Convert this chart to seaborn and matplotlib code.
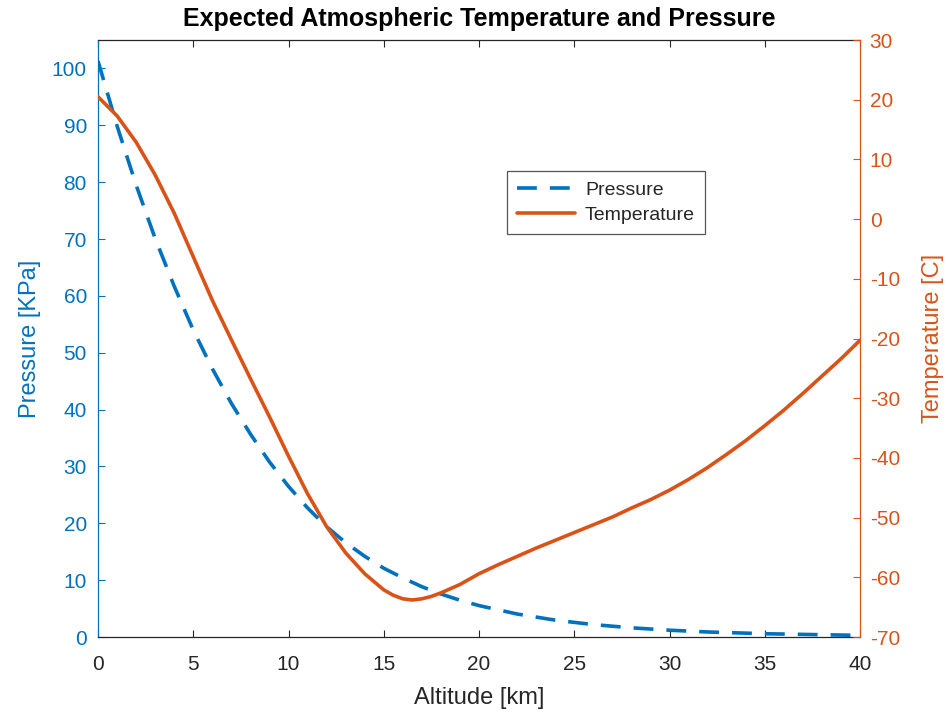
import matplotlib
matplotlib.use("Agg")
import matplotlib.pyplot as plt
import seaborn as sns
import pandas as pd

# ---- data ----
alt_p = [0, 1, 2, 3, 4, 5, 6, 7, 8, 9, 10, 11, 12, 13, 14, 15, 16, 17, 18, 19, 20,
         22, 24, 26, 28, 30, 32, 35, 40]
pressure = [101.3, 89.9, 79.5, 70.1, 61.7, 54.0, 47.2, 41.1, 35.7, 30.8, 26.5, 22.7,
            19.4, 16.6, 14.2, 12.1, 10.4, 8.85, 7.57, 6.47, 5.53,
            4.05, 2.97, 2.19, 1.62, 1.20, 0.89, 0.58, 0.29]

alt_t = [0, 1, 2, 3, 4, 5, 6, 7, 8, 9, 10, 11, 12, 13, 14, 15, 15.5, 16, 16.5, 17,
         17.5, 18, 18.5, 19, 19.5, 20, 21, 22, 23, 24, 25, 26, 27, 28, 29, 30, 31,
         32, 33, 34, 35, 36, 37, 38, 39, 40]
temperature = [20.5, 17.3, 12.9, 7.4, 1.0, -6.3, -13.6, -20.2, -26.7, -33.1, -39.7,
               -46.0, -51.5, -55.9, -59.4, -62.1, -63.0, -63.6, -63.8, -63.6,
               -63.2, -62.6, -61.9, -61.2, -60.3, -59.4, -57.9, -56.5, -55.1, -53.8,
               -52.5, -51.2, -49.9, -48.4, -47.0, -45.4, -43.6, -41.6, -39.4, -37.1,
               -34.6, -32.0, -29.2, -26.3, -23.4, -20.3]

x_ticks = [0, 5, 10, 15, 20, 25, 30, 35, 40]
p_ticks = [0, 10, 20, 30, 40, 50, 60, 70, 80, 90, 100]
t_ticks = [-70, -60, -50, -40, -30, -20, -10, 0, 10, 20, 30]

BLUE = "#0072BD"
ORANGE = "#D95319"
GRAY = "#262626"

sns.set_theme(style="white")
plt.rcParams["font.family"] = ["Liberation Sans", "DejaVu Sans"]
plt.rcParams["axes.unicode_minus"] = False

df_p = pd.DataFrame({"alt": alt_p, "p": pressure})
df_t = pd.DataFrame({"alt": alt_t, "t": temperature})

fig = plt.figure(figsize=(9.46, 7.12), dpi=100)
ax = fig.add_axes([0.1036, 0.1053, 0.8055, 0.8385])
ax2 = ax.twinx()

sns.lineplot(data=df_p, x="alt", y="p", ax=ax, color=BLUE, linewidth=2.6,
             label="Pressure", legend=False)
ax.lines[-1].set_dashes((5.5, 3.6))
sns.lineplot(data=df_t, x="alt", y="t", ax=ax2, color=ORANGE, linewidth=2.6,
             label="Temperature", legend=False)

ax.set_xlim(0, 40)
ax.set_ylim(0, 105)
ax2.set_ylim(-70, 30)
ax.set_xticks(x_ticks)
ax.set_yticks(p_ticks)
ax2.set_yticks(t_ticks)

fs = 15
ax.tick_params(axis="x", direction="in", top=True, bottom=True, length=5,
               width=0.8, colors=GRAY, labelsize=fs, pad=13)
ax.tick_params(axis="y", direction="in", left=True, length=5, width=0.8,
               colors=BLUE, labelsize=fs, pad=8)
ax2.tick_params(axis="y", direction="in", right=True, length=5, width=0.8,
                colors=ORANGE, labelsize=fs, pad=7)

for a in (ax, ax2):
    for s in a.spines.values():
        s.set_linewidth(0.9)
ax.spines["top"].set_color(GRAY)
ax.spines["bottom"].set_color(GRAY)
ax.spines["left"].set_color(BLUE)
ax.spines["right"].set_visible(False)
ax2.spines["right"].set_color(ORANGE)
ax2.spines["left"].set_visible(False)
ax2.spines["top"].set_visible(False)
ax2.spines["bottom"].set_visible(False)

ax.set_xlabel("Altitude [km]", fontsize=17, color=GRAY, labelpad=9)
ax.set_ylabel("Pressure [KPa]", fontsize=17, color=BLUE, labelpad=8)
ax2.set_ylabel("Temperature [C]", fontsize=17, color=ORANGE, labelpad=16)
ax.set_title("Expected Atmospheric Temperature and Pressure", fontsize=18,
             fontweight="bold", color="black", pad=10)

h1, l1 = ax.get_legend_handles_labels()
h2, l2 = ax2.get_legend_handles_labels()
leg = ax2.legend(h1 + h2, l1 + l2, loc="upper left", bbox_to_anchor=(0.537, 0.78),
                 fontsize=14, frameon=True, fancybox=False, framealpha=1,
                 edgecolor="#555555", borderpad=0.5, handlelength=3.0,
                 labelspacing=0.4, handletextpad=0.5, borderaxespad=0)
leg.get_frame().set_linewidth(0.9)
for t in leg.get_texts():
    t.set_color(GRAY)

fig.savefig("out.png", dpi=100)
